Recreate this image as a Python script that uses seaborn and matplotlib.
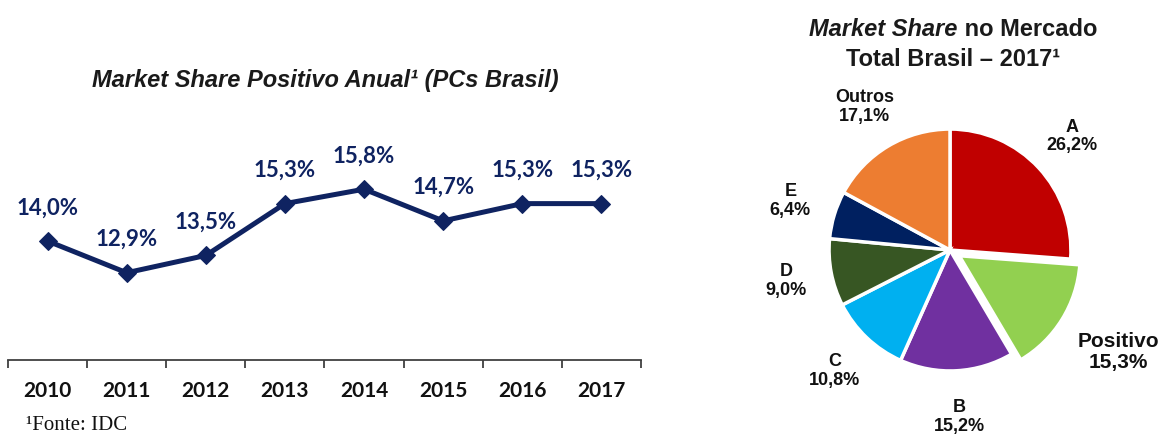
import matplotlib
matplotlib.use("Agg")
import matplotlib.pyplot as plt
import seaborn as sns
import pandas as pd
import numpy as np

years = ["2010", "2011", "2012", "2013", "2014", "2015", "2016", "2017"]
share = [14.0, 12.9, 13.5, 15.3, 15.8, 14.7, 15.3, 15.3]

pie_labels = ["A", "Positivo", "B", "C", "D", "E", "Outros"]
pie_values = [26.2, 15.3, 15.2, 10.8, 9.0, 6.4, 17.1]
pie_colors = ["#C00000", "#92D050", "#7030A0", "#00B0F0", "#375623", "#002060", "#ED7D31"]

sns.set_style("white")
plt.rcParams['font.family'] = ['Liberation Sans', 'DejaVu Sans']

fig = plt.figure(figsize=(11.64, 4.38), dpi=100)

navy = "#0F2361"
# ---- line chart ----
ax = fig.add_axes([8/1164, (438-360)/438, 633/1164, 250/438])
df = pd.DataFrame({"x": np.arange(len(years)), "v": share})
sns.lineplot(data=df, x="x", y="v", ax=ax, color=navy, linewidth=3.6,
             marker="D", markersize=9.5, markeredgecolor=navy, markerfacecolor=navy)
ax.set_xlim(-0.5, len(years) - 0.5)
ax.set_ylim(9.87, 18.55)
for i, v in enumerate(share):
    ax.annotate(f"{v:.1f}%".replace(".", ","), (i, v), xytext=(0, 24),
                textcoords="offset points", ha="center", va="center",
                fontsize=16, fontweight="bold", color=navy, family="Lato")
for s in ["top", "left", "right"]:
    ax.spines[s].set_visible(False)
ax.spines["bottom"].set_color("#404040")
ax.spines["bottom"].set_linewidth(1.3)
ax.set_xticks(np.arange(-0.5, len(years)), labels=[])
ax.set_xticks(np.arange(len(years)), labels=years, minor=True)
ax.tick_params(axis="x", which="major", direction="out", length=6, width=1.3, color="#404040", bottom=True)
ax.tick_params(axis="x", which="minor", length=0, pad=15)
for t in ax.get_xticklabels(minor=True):
    t.set_fontsize(15)
    t.set_fontweight("bold")
    t.set_family("Lato")
    t.set_color("#111111")
ax.set_yticks([])
ax.set_xlabel("")
ax.set_ylabel("")
ax.set_facecolor("none")

fig.text(325/1164, 1 - 80/438, "Market Share Positivo Anual¹ (PCs Brasil)",
         ha="center", va="center", fontsize=17, fontweight="bold", fontstyle="italic",
         color="#1a1a1a")
fig.text(26/1164, 3/438, "¹Fonte: IDC", ha="left", va="bottom",
         fontsize=15, family="Liberation Serif", color="#111111")

# ---- pie ----
S = 387
pax = fig.add_axes([(950 - S/2)/1164, (438 - 250 - S/2)/438, S/1164, S/438])
explode = [0.09 if l == "Positivo" else 0 for l in pie_labels]
wedges, texts = pax.pie(pie_values, colors=pie_colors, startangle=90, counterclock=False,
                        explode=explode, labels=[f"{l}\n{v:.1f}%".replace(".", ",") for l, v in zip(pie_labels, pie_values)],
                        labeldistance=1.38,
                        wedgeprops=dict(edgecolor="white", linewidth=2.5))
for t, l in zip(texts, pie_labels):
    t.set_ha("center")
    t.set_va("center")
    t.set_fontweight("bold")
    t.set_fontsize(15 if l == "Positivo" else 13)
    t.set_color("#111111")
    t.set_linespacing(1.15)
    if l == "Positivo":
        x, y = t.get_position()
        t.set_position((x * 1.64 / 1.47, y * 1.6 / 1.47))
pax.set_xlim(-1.6, 1.6)
pax.set_ylim(-1.6, 1.6)
pax.set_aspect("equal")
pax.axis("off")

# pie title with mixed styles
fig.canvas.draw()
r = fig.canvas.get_renderer()
y1 = 1 - 30/438
t1 = fig.text(0, y1, "Market Share", ha="left", va="center", fontsize=17,
              fontweight="bold", fontstyle="italic", color="#1a1a1a")
t2 = fig.text(0, y1, " no Mercado", ha="left", va="center", fontsize=17,
              fontweight="bold", color="#1a1a1a")
w1 = t1.get_window_extent(r).width
w2 = t2.get_window_extent(r).width
x0 = 953 - (w1 + w2) / 2
t1.set_x(x0 / 1164)
t2.set_x((x0 + w1) / 1164)
fig.text(953/1164, 1 - 60/438, "Total Brasil – 2017¹", ha="center", va="center",
         fontsize=17, fontweight="bold", color="#1a1a1a")

fig.savefig("out.png", dpi=100)
